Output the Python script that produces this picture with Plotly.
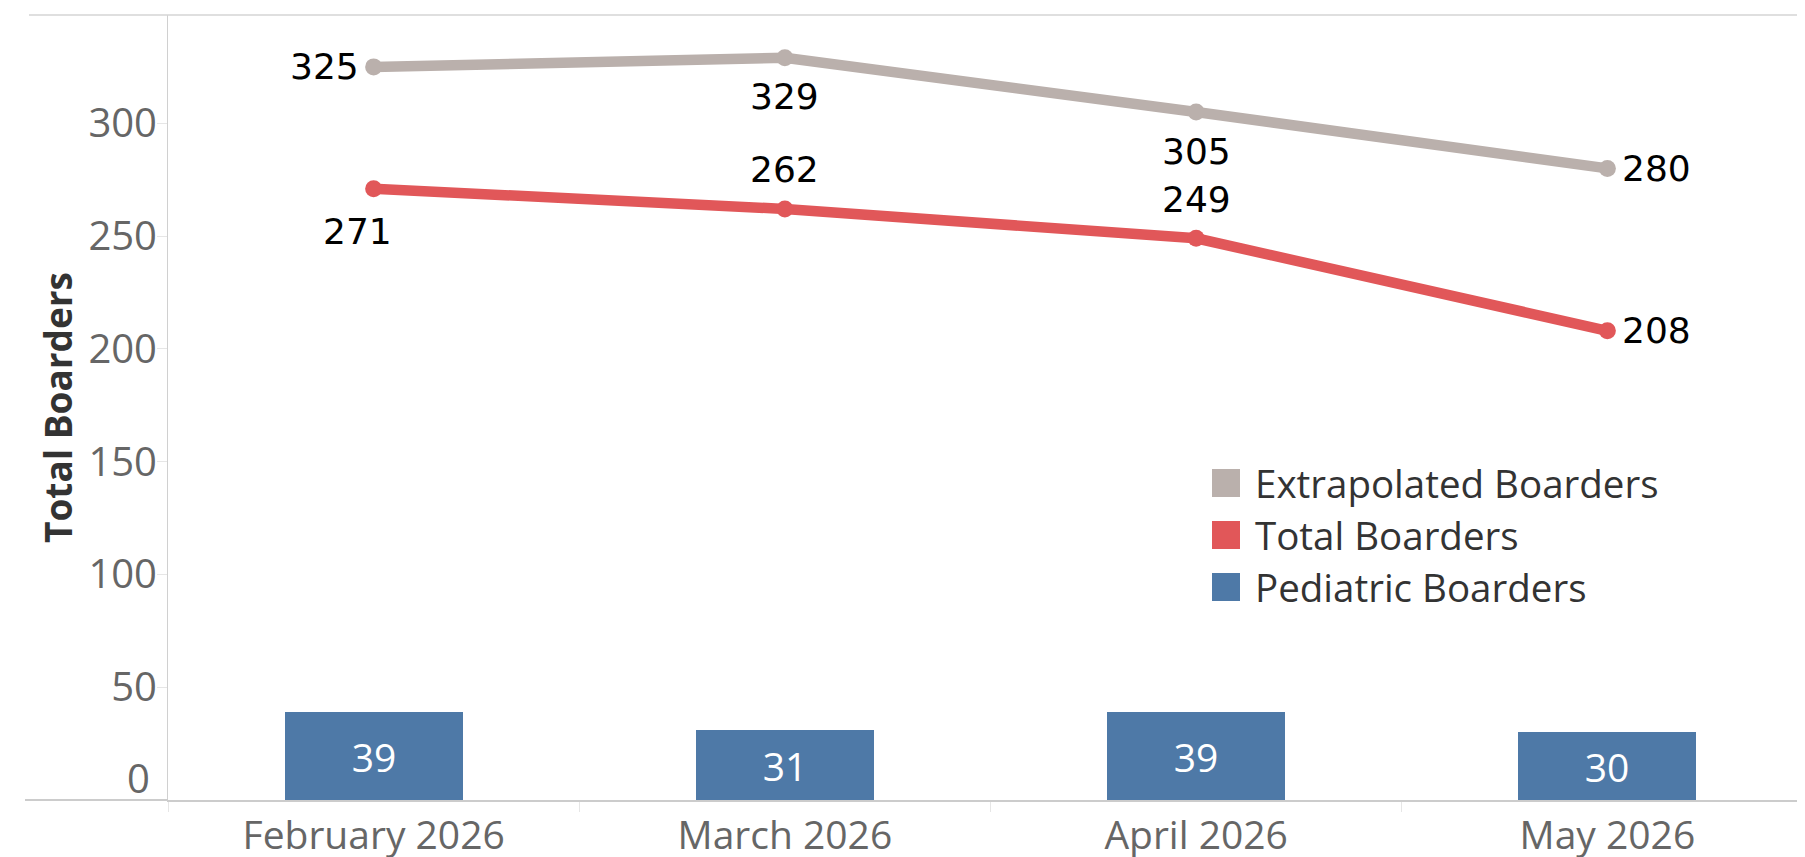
import plotly.graph_objects as go

# ---- data ----
months = ["February 2026", "March 2026", "April 2026", "May 2026"]
extrapolated = [325, 329, 305, 280]
total = [271, 262, 249, 208]
pediatric = [39, 31, 39, 30]
y_ticks = [50, 100, 150, 200, 250, 300]

# label placement (style)
extrap_pos = ["left", "below", "below", "right"]
total_pos = ["below", "above", "above", "right"]

C_GRAY = "#BAB0AC"
C_RED = "#E15759"
C_BLUE = "#4E79A7"
FONT = "Open Sans"

W, H = 1805, 857
OFF = 8  # page body margin
ML, MR, MT, MB = 160, 0, 7, 65
PW = W - ML - MR
PH = H - MT - MB


def px_x(page_x):
    return (page_x - OFF - ML) / PW


def px_y(page_y):
    return 1 - (page_y - OFF - MT) / PH


fig = go.Figure()

fig.add_trace(go.Bar(
    x=months, y=pediatric, name="Pediatric Boarders",
    marker=dict(color=C_BLUE, line=dict(width=0)),
    width=0.433,
    text=[str(v) for v in pediatric],
    textposition="inside", insidetextanchor="middle",
    constraintext="none",
    textfont=dict(family=FONT, size=39, color="white"),
    showlegend=False, cliponaxis=False,
))

fig.add_trace(go.Scatter(
    x=months, y=extrapolated, name="Extrapolated Boarders",
    mode="lines+markers",
    line=dict(color=C_GRAY, width=10.5),
    marker=dict(color=C_GRAY, size=17),
    showlegend=False, cliponaxis=False,
))
fig.add_trace(go.Scatter(
    x=months, y=total, name="Total Boarders",
    mode="lines+markers",
    line=dict(color=C_RED, width=10.5),
    marker=dict(color=C_RED, size=17),
    showlegend=False, cliponaxis=False,
))


def add_labels(values, positions):
    for i, (m, v) in enumerate(zip(months, values)):
        p = positions[i]
        kw = dict(x=m, y=v, xref="x", yref="y", text=str(v), showarrow=False,
                  font=dict(family="DejaVu Sans", size=36, color="black"))
        if p == "left":
            kw.update(xanchor="right", yanchor="middle", xshift=-13)
        elif p == "right":
            kw.update(xanchor="left", yanchor="middle", xshift=13)
        elif p == "below":
            kw.update(xanchor="center", yanchor="middle", yshift=-39)
            if i == 0:
                kw.update(xshift=-16, yshift=-43)
        else:
            kw.update(xanchor="center", yanchor="middle", yshift=39)
        fig.add_annotation(**kw)


add_labels(extrapolated, extrap_pos)
add_labels(total, total_pos)

# "0" tick label (Tableau lifts it above the baseline)
fig.add_annotation(x=0, xref="paper", xanchor="right", xshift=-16,
                   y=0, yref="y", yanchor="middle", yshift=23,
                   text="0", showarrow=False,
                   font=dict(family=FONT, size=40, color="#666666"))

# legend built as swatches + text
legend_items = [("Extrapolated Boarders", C_GRAY), ("Total Boarders", C_RED),
                ("Pediatric Boarders", C_BLUE)]
for k, (name, col) in enumerate(legend_items):
    cy = 483 + 52 * k
    fig.add_shape(type="rect", xref="paper", yref="paper",
                  x0=px_x(1212), x1=px_x(1240), y0=px_y(cy + 14), y1=px_y(cy - 14),
                  fillcolor=col, line=dict(width=0))
    fig.add_annotation(xref="paper", yref="paper", x=px_x(1253), y=px_y(cy),
                       xanchor="left", yanchor="middle", text=name, showarrow=False,
                       font=dict(family=FONT, size=38.5, color="#333333"))

# frame lines extending left of the axis
fig.add_shape(type="line", xref="paper", yref="paper",
              x0=px_x(29), x1=1, y0=1, y1=1,
              line=dict(color="#d4d4d4", width=1.5))
fig.add_shape(type="line", xref="paper", yref="paper",
              x0=px_x(25), x1=0, y0=0, y1=0,
              line=dict(color="#cccccc", width=2))

fig.update_layout(
    width=W, height=H,
    margin=dict(l=ML, r=MR, t=MT, b=MB),
    paper_bgcolor="white", plot_bgcolor="white",
    font=dict(family=FONT),
    showlegend=False,
    bargap=0,
)
fig.update_xaxes(
    type="category", range=[-0.5, 3.5],
    tickson="boundaries", ticks="outside", ticklen=10, tickcolor="#e6e6e6", tickwidth=1,
    showline=True, linecolor="#cccccc", linewidth=2,
    showgrid=False, zeroline=False,
    tickfont=dict(family=FONT, size=39, color="#666666"),
)
fig.update_yaxes(
    range=[0, 348], tickvals=y_ticks,
    ticks="outside", ticklen=10, tickcolor="#e6e6e6", tickwidth=1,
    ticklabelstandoff=-8,
    showline=True, linecolor="#d0d0d0", linewidth=1,
    showgrid=False, zeroline=False,
    tickfont=dict(family=FONT, size=40, color="#666666"),
    title=dict(text="Total Boarders", standoff=4,
               font=dict(family=FONT, size=37, color="#333333", weight="bold")),
)

fig.write_html("out.html")
